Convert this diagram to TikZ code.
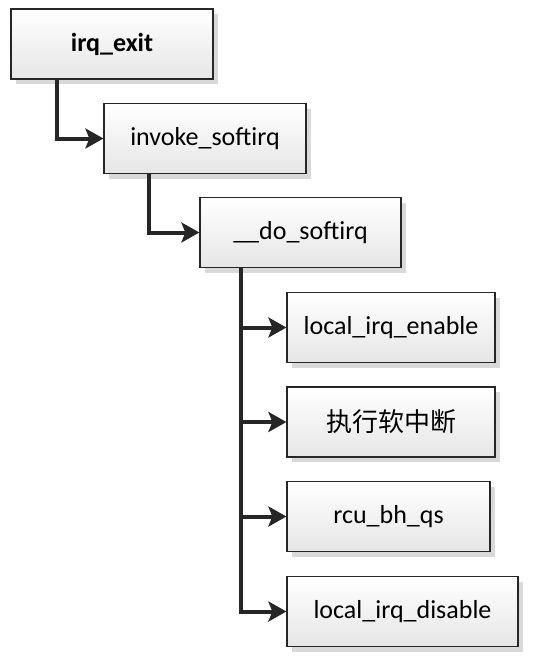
\documentclass[tikz,border=0pt]{standalone}
\usepackage{fontspec}
\setmainfont{Carlito}
\newfontfamily\cjk{Noto Sans CJK SC}
\usetikzlibrary{arrows.meta,shadows}
\begin{document}
\begin{tikzpicture}[x=1pt,y=-1pt]
\tikzset{
  box/.style={draw=black!85, line width=1.2pt, rectangle, inner sep=0pt,
    minimum height=70pt, top color=white, bottom color=black!10,
    drop shadow={shadow xshift=5pt, shadow yshift=-5pt, fill=black!15, opacity=1},
    font=\fontsize{26}{31}\selectfont},
  link/.style={line width=4pt, draw=black!85, -{Stealth[length=18pt,width=20pt,inset=4pt]}}
}
\useasboundingbox (0,0) rectangle (545,662);
\node [box, minimum width=202pt, font=\fontsize{26}{31}\selectfont\bfseries] (exit) at (112,44) {irq\_exit};
\node [box, minimum width=202pt] (invoke) at (205,138.5) {invoke\_softirq};
\node [box, minimum width=201pt] (do) at (300.5,232.5) {\_\_do\_softirq};
\node [box, minimum width=208pt] (enable) at (391,327.5) {local\_irq\_enable};
\node [box, minimum width=208pt] (run) at (391,422) {\cjk 执行软中断};
\node [box, minimum width=203pt] (rcu) at (388.5,516.5) {rcu\_bh\_qs};
\node [box, minimum width=231pt] (disable) at (402.5,611.5) {local\_irq\_disable};
% call chain
\draw [link] ([xshift=47pt]exit.south west) |- (invoke.west);
\draw [link] ([xshift=46pt]invoke.south west) |- (do.west);
\coordinate (trunk) at ([xshift=42pt]do.south west);
\draw [link] (trunk) |- (disable.west);
\draw [link] (trunk |- enable.west) -- (enable.west);
\draw [link] (trunk |- run.west) -- (run.west);
\draw [link] (trunk |- rcu.west) -- (rcu.west);
\end{tikzpicture}
\end{document}
